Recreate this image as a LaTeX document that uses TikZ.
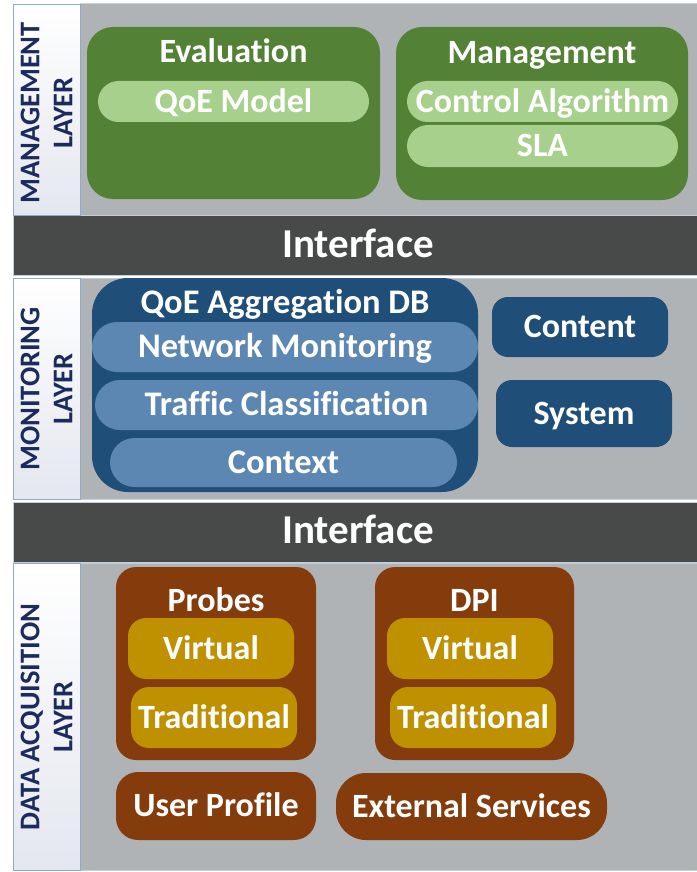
\documentclass[tikz,border=0pt]{standalone}
\usepackage{fontspec}
\setmainfont{Carlito}[Ligatures={NoCommon}]
\definecolor{laygray}{HTML}{B0B3B6}
\definecolor{layline}{HTML}{C3CEDB}
\definecolor{lblline}{HTML}{8FAACB}
\definecolor{lblbot}{HTML}{E4E7EE}
\definecolor{lbltext}{HTML}{1B2B5E}
\definecolor{band}{HTML}{484A4A}
\definecolor{dgreen}{HTML}{538135}
\definecolor{lgreen}{HTML}{A8D08D}
\definecolor{dblue}{HTML}{1F4E79}
\definecolor{mblue}{HTML}{5B87B2}
\definecolor{brown}{HTML}{843C0C}
\definecolor{gold}{HTML}{BF9000}
\begin{document}
\begin{tikzpicture}[x=1pt,y=-1pt,
  lay/.style={fill=laygray, draw=layline, line width=1pt},
  lbl/.style={draw=lblline, line width=0.8pt, top color=white, bottom color=lblbot},
  lbltxt/.style={rotate=90, align=center, text=lbltext, font=\bfseries\fontsize{28.5}{33}\selectfont, inner sep=0pt},
  bandbox/.style={fill=band, draw=layline, line width=1pt},
  bandtxt/.style={text=white, font=\bfseries\fontsize{41}{45}\selectfont, text height=25.8pt, text depth=0pt, inner sep=0pt},
  bx/.style={inner sep=0pt, text=white, align=center, font=\bfseries\fontsize{34}{40}\selectfont, text height=21.4pt, text depth=0pt},
  sbx/.style={bx, font=\bfseries\fontsize{34.5}{40}\selectfont, text height=21.7pt},
  ttl/.style={bx},
]
\useasboundingbox (0,0) rectangle (696,872);
\fill[white] (0,0) rectangle (696,872);

% ---------- layers ----------
\draw[lay] (13,4) rectangle (697,215);
\draw[bandbox] (13,215) rectangle (697,275);
\draw[lay] (13,278) rectangle (697,499);
\draw[bandbox] (13,502) rectangle (697,562);
\draw[lay] (13,563) rectangle (697,870);

\draw[lbl] (13,4) rectangle (80,215);
\draw[lbl] (13,278) rectangle (80,499);
\draw[lbl] (13,563) rectangle (80,870);

\node[lbltxt] (lblmgmt) at (46.5,113) {MANAGEMENT\\LAYER};
\node[lbltxt] (lblmon) at (46.5,389) {MONITORING\\LAYER};
\node[lbltxt] (lbldata) at (46.5,717) {DATA ACQUISITION\\LAYER};

\node[bandtxt] (if1) at (358,245) {Interface};
\node[bandtxt] (if2) at (358,531) {Interface};

% ---------- management layer ----------
\node[bx, fill=dgreen, rounded corners=26pt, minimum width=293pt, minimum height=172pt] (eval) at (233.5,113) {};
\node[ttl] (evalt) at (233.5,52) {Evaluation};
\node[bx, fill=lgreen, rounded corners=20.5pt, minimum width=271pt, minimum height=41pt] (qoem) at (233.5,101.5) {QoE Model};

\node[bx, fill=dgreen, rounded corners=26pt, minimum width=292pt, minimum height=173pt] (mgmt) at (542,113.5) {};
\node[ttl] (mgmtt) at (542,52.5) {Management};
\node[bx, fill=lgreen, rounded corners=20.5pt, minimum width=271pt, minimum height=41pt] (ctrl) at (542.5,101.5) {Control Algorithm};
\node[bx, fill=lgreen, rounded corners=21pt, minimum width=271pt, minimum height=42pt] (sla) at (542.5,146) {SLA};

% ---------- monitoring layer ----------
\node[bx, fill=dblue, rounded corners=36pt, minimum width=386pt, minimum height=214pt] (qoedb) at (285,385) {};
\node[sbx] (qoedbt) at (285,303) {QoE Aggregation DB};
\node[sbx, fill=mblue, rounded corners=25pt, minimum width=386pt, minimum height=50pt] (netmon) at (285,347) {Network Monitoring};
\node[sbx, fill=mblue, rounded corners=25pt, minimum width=383pt, minimum height=50pt] (traffic) at (286.5,405) {Traffic Classification};
\node[sbx, fill=mblue, rounded corners=24.5pt, minimum width=347pt, minimum height=49pt] (context) at (283.5,462.5) {Context};

\node[bx, fill=dblue, rounded corners=16pt, minimum width=176pt, minimum height=60pt] (content) at (580,327) {Content};
\node[bx, fill=dblue, rounded corners=16pt, minimum width=176pt, minimum height=67pt] (system) at (584,413.5) {System};

% ---------- data acquisition layer ----------
\node[bx, fill=brown, rounded corners=20pt, minimum width=200pt, minimum height=193pt] (probes) at (216,663.5) {};
\node[ttl] (probest) at (216,601) {Probes};
\node[bx, fill=gold, rounded corners=18pt, minimum width=166pt, minimum height=61pt] (pvirt) at (211,648.5) {Virtual};
\node[bx, fill=gold, rounded corners=18pt, minimum width=166pt, minimum height=61pt] (ptrad) at (214,717.5) {Traditional};

\node[bx, fill=brown, rounded corners=20pt, minimum width=199pt, minimum height=193pt] (dpi) at (474.5,663.5) {};
\node[ttl] (dpit) at (474.5,601) {DPI};
\node[bx, fill=gold, rounded corners=18pt, minimum width=166pt, minimum height=61pt] (dvirt) at (470,648.5) {Virtual};
\node[bx, fill=gold, rounded corners=18pt, minimum width=166pt, minimum height=61pt] (dtrad) at (473,717.5) {Traditional};

\node[bx, fill=brown, rounded corners=22pt, minimum width=200pt, minimum height=68pt] (user) at (216,806) {User Profile};
\node[bx, fill=brown, rounded corners=30pt, minimum width=271pt, minimum height=67pt] (ext) at (471.5,806.5) {External Services};
\end{tikzpicture}
\end{document}
